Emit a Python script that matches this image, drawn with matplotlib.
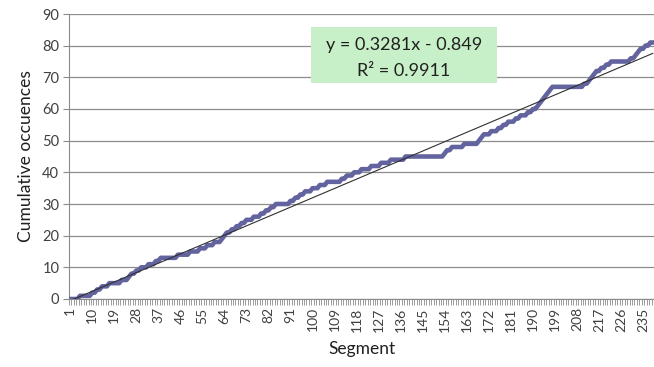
import numpy as np
import matplotlib
matplotlib.use('Agg')
import matplotlib.pyplot as plt
from matplotlib.patches import Rectangle

# --- DATA ---
N_SEGMENTS = 239
# segments in which an occurrence was counted (cumulative count goes up by one)
EVENT_SEGMENTS = [5, 10, 12, 14, 17, 22, 25, 26, 28, 30, 33, 36, 38, 45, 50, 54,
                  57, 60, 63, 64, 65, 67, 69, 71, 73, 76, 79, 81, 83, 85, 91, 93,
                  95, 97, 100, 103, 106, 112, 114, 117, 120, 124, 128, 132, 138,
                  154, 155, 157, 162, 168, 169, 170, 173, 176, 178, 180, 183, 185,
                  188, 190, 192, 193, 194, 195, 196, 197, 198, 211, 213, 214, 215,
                  216, 218, 220, 222, 230, 232, 233, 234, 236, 238]
TICK_STEP = 9
SLOPE = 0.3281
INTERCEPT = -0.849
R2 = 0.9911

# --- STYLE ---
FONT = 'Lato'
LINE_COLOR = '#63639f'
GRID_COLOR = '#8c8c8c'
TEXT_COLOR = '#404040'

plt.rcParams['font.family'] = [FONT, 'DejaVu Sans']

segments = np.arange(1, N_SEGMENTS + 1)
hits = np.zeros(N_SEGMENTS)
hits[np.array(EVENT_SEGMENTS) - 1] = 1
cumulative = np.cumsum(hits)

fig = plt.figure(figsize=(6.54, 3.67), dpi=100, facecolor='white')
ax = fig.add_axes([69 / 654, 1 - 299 / 367, 585 / 654, 285 / 367])

ax.plot(segments, cumulative, color=LINE_COLOR, linewidth=3.3, solid_joinstyle='round', zorder=3)
ax.plot(segments, SLOPE * segments + INTERCEPT, color='#303030', linewidth=0.8, zorder=4)

ax.set_xlim(0.5, N_SEGMENTS + 0.5)
ax.set_ylim(0, 90)

# y axis
ax.set_yticks(np.arange(0, 91, 10))
ax.yaxis.grid(True, color=GRID_COLOR, linewidth=0.9)
ax.set_axisbelow(True)
ax.tick_params(axis='y', length=4, color=GRID_COLOR, labelsize=10.5, labelcolor=TEXT_COLOR, pad=3)

# x axis: labels every 9th segment, tick marks between all segments
label_pos = segments[::TICK_STEP]
ax.set_xticks(label_pos)
ax.set_xticklabels([str(s) for s in label_pos], rotation=90)
ax.set_xticks(np.arange(0.5, N_SEGMENTS + 1), minor=True)
ax.tick_params(axis='x', which='major', length=0, labelsize=10, labelcolor=TEXT_COLOR, pad=6)
ax.tick_params(axis='x', which='minor', length=4, color=GRID_COLOR, width=0.6)

for side in ['top', 'right']:
    ax.spines[side].set_visible(False)
ax.spines['left'].set_color(GRID_COLOR)
ax.spines['bottom'].set_color(GRID_COLOR)

ax.set_xlabel('Segment', fontsize=12.5, color='#202020', labelpad=7)
ax.set_ylabel('Cumulative occuences', fontsize=12.5, color='#202020', labelpad=6)

# trendline label box
fig.patches.append(Rectangle((311 / 654, 1 - 83 / 367), 186 / 654, 56 / 367,
                             transform=fig.transFigure, facecolor='#c8f0c8',
                             edgecolor='none', zorder=5))
fig.text(404 / 654, 1 - 45 / 367, f"y = {SLOPE}x - {abs(INTERCEPT)}", ha='center', va='center',
         fontsize=13, color='#202020', zorder=6)
fig.text(404 / 654, 1 - 71 / 367, f"R² = {R2}", ha='center', va='center',
         fontsize=13, color='#202020', zorder=6)

fig.savefig('out.png', dpi=100)
